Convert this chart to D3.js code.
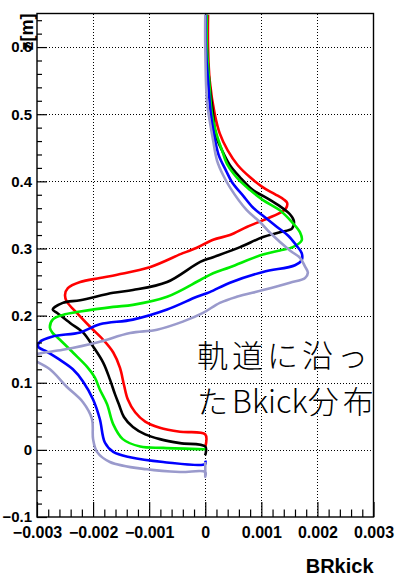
<!DOCTYPE html>
<html>
<head>
<meta charset="utf-8">
<script src="https://cdn.jsdelivr.net/npm/d3@7"></script>
<style>
  html, body { margin: 0; padding: 0; background: #fff; }
  svg { display: block; }
</style>
</head>
<body>
<svg id="chart" width="405" height="576"></svg>
<script>
// BRkick along the orbit, five orbits; each point is [BRkick, z (m)]
const kickRed = [
  [0.05e-3, 0.648], [0.05e-3, 0.600], [0.08e-3, 0.550], [0.17e-3, 0.500], [0.26e-3, 0.471],
  [0.40e-3, 0.446], [0.58e-3, 0.424], [0.80e-3, 0.406], [1.03e-3, 0.391], [1.24e-3, 0.381],
  [1.40e-3, 0.373], [1.46e-3, 0.368], [1.44e-3, 0.360], [1.33e-3, 0.353], [1.03e-3, 0.342],
  [0.74e-3, 0.332], [0.44e-3, 0.320], [0.14e-3, 0.313], [-0.15e-3, 0.301], [-0.40e-3, 0.293],
  [-0.99e-3, 0.272], [-1.57e-3, 0.261], [-1.88e-3, 0.256], [-2.23e-3, 0.250], [-2.45e-3, 0.241],
  [-2.50e-3, 0.231], [-2.47e-3, 0.221], [-2.29e-3, 0.204], [-2.05e-3, 0.183], [-1.82e-3, 0.164],
  [-1.64e-3, 0.145], [-1.52e-3, 0.122], [-1.45e-3, 0.097], [-1.38e-3, 0.075], [-1.25e-3, 0.056],
  [-1.07e-3, 0.042], [-0.81e-3, 0.033], [-0.45e-3, 0.027], [0, 0.023], [0, 0.004]
];
const kickBlack = [
  [0.03e-3, 0.648], [0.03e-3, 0.600], [0.07e-3, 0.550], [0.14e-3, 0.500], [0.19e-3, 0.468],
  [0.30e-3, 0.446], [0.44e-3, 0.424], [0.62e-3, 0.406], [0.85e-3, 0.387], [1.10e-3, 0.375],
  [1.33e-3, 0.363], [1.51e-3, 0.351], [1.58e-3, 0.341], [1.55e-3, 0.330], [1.33e-3, 0.324],
  [1.03e-3, 0.317], [0.62e-3, 0.302], [0.14e-3, 0.287], [-0.09e-3, 0.280], [-0.68e-3, 0.250],
  [-1.29e-3, 0.238], [-1.64e-3, 0.234], [-2.23e-3, 0.223], [-2.54e-3, 0.219], [-2.72e-3, 0.209],
  [-2.64e-3, 0.204], [-2.41e-3, 0.189], [-2.18e-3, 0.175], [-2.00e-3, 0.154], [-1.82e-3, 0.130],
  [-1.70e-3, 0.105], [-1.61e-3, 0.083], [-1.54e-3, 0.068], [-1.45e-3, 0.049], [-1.29e-3, 0.034],
  [-1.07e-3, 0.023], [-0.81e-3, 0.016], [-0.45e-3, 0.010], [0, 0.005], [0, -0.008]
];
const kickGreen = [
  [0.03e-3, 0.648], [0.03e-3, 0.600], [0.07e-3, 0.550], [0.12e-3, 0.500], [0.21e-3, 0.468],
  [0.30e-3, 0.446], [0.40e-3, 0.424], [0.58e-3, 0.404], [0.80e-3, 0.387], [1.03e-3, 0.372],
  [1.33e-3, 0.357], [1.55e-3, 0.339], [1.69e-3, 0.324], [1.72e-3, 0.312], [1.56e-3, 0.302],
  [1.33e-3, 0.297], [1.03e-3, 0.291], [0.44e-3, 0.272], [0.14e-3, 0.263], [-0.09e-3, 0.253],
  [-0.68e-3, 0.228], [-1.29e-3, 0.216], [-1.64e-3, 0.213], [-2.23e-3, 0.206], [-2.54e-3, 0.201],
  [-2.72e-3, 0.194], [-2.77e-3, 0.182], [-2.73e-3, 0.175], [-2.59e-3, 0.164], [-2.36e-3, 0.145],
  [-2.11e-3, 0.124], [-1.97e-3, 0.108], [-1.88e-3, 0.090], [-1.75e-3, 0.068], [-1.64e-3, 0.038],
  [-1.47e-3, 0.016], [-1.16e-3, 0.005], [-0.75e-3, 0.003], [0, 0.001]
];
const kickBlue = [
  [0.01e-3, 0.648], [0.01e-3, 0.600], [0.05e-3, 0.550], [0.10e-3, 0.500], [0.16e-3, 0.468],
  [0.24e-3, 0.439], [0.37e-3, 0.416], [0.49e-3, 0.397], [0.67e-3, 0.379], [0.85e-3, 0.361],
  [1.07e-3, 0.346], [1.28e-3, 0.332], [1.48e-3, 0.319], [1.62e-3, 0.305], [1.72e-3, 0.293],
  [1.72e-3, 0.283], [1.60e-3, 0.275], [1.03e-3, 0.265], [0.44e-3, 0.249], [0.08e-3, 0.235],
  [-0.15e-3, 0.228], [-0.68e-3, 0.209], [-1.29e-3, 0.194], [-1.88e-3, 0.187], [-2.23e-3, 0.175],
  [-2.72e-3, 0.169], [-2.95e-3, 0.161], [-2.98e-3, 0.154], [-2.82e-3, 0.146], [-2.59e-3, 0.134],
  [-2.36e-3, 0.120], [-2.18e-3, 0.102], [-2.00e-3, 0.075], [-1.88e-3, 0.046], [-1.79e-3, 0.011],
  [-1.64e-3, -0.003], [-1.34e-3, -0.011], [-0.75e-3, -0.018], [0, -0.021], [0, -0.016]
];
const kickLavender = [
  [0, 0.648], [0, 0.600], [0.03e-3, 0.520], [0.08e-3, 0.490], [0.14e-3, 0.461],
  [0.21e-3, 0.431], [0.32e-3, 0.409], [0.44e-3, 0.391], [0.74e-3, 0.357], [0.98e-3, 0.339],
  [1.16e-3, 0.323], [1.51e-3, 0.297], [1.69e-3, 0.286], [1.78e-3, 0.273], [1.83e-3, 0.264],
  [1.78e-3, 0.256], [1.51e-3, 0.249], [1.03e-3, 0.238], [0.56e-3, 0.228], [0.26e-3, 0.219],
  [-0.04e-3, 0.204], [-0.40e-3, 0.191], [-0.86e-3, 0.179], [-1.34e-3, 0.174], [-1.93e-3, 0.160],
  [-2.54e-3, 0.149], [-3.04e-3, 0.142], [-3.13e-3, 0.137], [-3.04e-3, 0.133], [-2.77e-3, 0.120],
  [-2.47e-3, 0.094], [-2.18e-3, 0.071], [-2.02e-3, 0.046], [-2.00e-3, 0.016], [-1.93e-3, -0.003],
  [-1.70e-3, -0.018], [-1.04e-3, -0.029], [-0.45e-3, -0.033], [0, -0.033], [0, -0.040], [0, -0.018]
];

const seriesList = [
  { name: "red", color: "#ff0000", points: kickRed },
  { name: "black", color: "#000000", points: kickBlack },
  { name: "green", color: "#00ee00", points: kickGreen },
  { name: "blue", color: "#0000ff", points: kickBlue },
  { name: "lavender", color: "#9a9acc", points: kickLavender }
];

const kickDomain = [-0.003, 0.003];
const zDomain = [-0.1, 0.65];
const kickTicks = [-0.003, -0.002, -0.001, 0, 0.001, 0.002, 0.003];
const zTicks = [-0.1, 0, 0.1, 0.2, 0.3, 0.4, 0.5, 0.6];
const xTitle = "BRkick";
const yTitle = "z[m]";
const noteLines = [["軌道に沿っ"], ["た", "Bkick", "分布"]];

const svg = d3.select("#chart");
const plot = { left: 37, right: 373.5, top: 13.5, bottom: 517 };

const x = d3.scaleLinear().domain(kickDomain).range([plot.left, plot.right]);
const y = d3.scaleLinear().domain(zDomain).range([plot.bottom, plot.top]);

const axisFont = "'Liberation Sans', Arial, Helvetica, sans-serif";

// dotted grid at the major ticks
const grid = svg.append("g").attr("stroke", "#000").attr("stroke-width", 1)
  .attr("stroke-dasharray", "1,2").attr("shape-rendering", "crispEdges");
grid.selectAll("line.gx").data(kickTicks.slice(1, -1)).join("line").attr("class", "gx")
  .attr("x1", d => Math.round(x(d)) + 0.5).attr("x2", d => Math.round(x(d)) + 0.5)
  .attr("y1", plot.top).attr("y2", plot.bottom);
grid.selectAll("line.gy").data(zTicks.slice(1)).join("line").attr("class", "gy")
  .attr("y1", d => Math.round(y(d)) + 0.5).attr("y2", d => Math.round(y(d)) + 0.5)
  .attr("x1", plot.left).attr("x2", plot.right);

// curves, clipped to the frame
svg.append("clipPath").attr("id", "plotClip").append("rect")
  .attr("x", plot.left).attr("y", plot.top)
  .attr("width", plot.right - plot.left).attr("height", plot.bottom - plot.top);

const line = d3.line().x(d => x(d[0])).y(d => y(d[1])).curve(d3.curveCatmullRom.alpha(0.5));
svg.append("g").attr("clip-path", "url(#plotClip)")
  .selectAll("path").data(seriesList).join("path")
  .attr("d", d => line(d.points))
  .attr("fill", "none")
  .attr("stroke", d => d.color)
  .attr("stroke-width", 2.6)
  .attr("stroke-linejoin", "round");

// frame
svg.append("rect")
  .attr("x", plot.left).attr("y", plot.top)
  .attr("width", plot.right - plot.left).attr("height", plot.bottom - plot.top)
  .attr("fill", "none").attr("stroke", "#000").attr("stroke-width", 1.4);

const fmtZ = d => d === 0 ? "0" : d3.format(".1f")(d);
const fmtK = d => d === 0 ? "0" : d3.format(".3f")(d);

// x axis: major ticks with labels, minor ticks without
const kickMinor = d3.range(-15, 16).map(i => i * 0.0002).filter(v => Math.abs(Math.round(v * 5000) % 5) !== 0);
const xAxis = svg.append("g").attr("transform", `translate(0,${plot.bottom})`)
  .call(d3.axisBottom(x).tickValues(kickTicks).tickFormat(fmtK).tickSize(-15).tickPadding(10));
svg.append("g").attr("transform", `translate(0,${plot.bottom})`)
  .call(d3.axisBottom(x).tickValues(kickMinor).tickFormat("").tickSize(-7.5));

// y axis
const zMinor = d3.range(-5, 33).map(i => i * 0.02).filter(v => Math.abs(Math.round(v * 50) % 5) !== 0);
const yAxis = svg.append("g").attr("transform", `translate(${plot.left},0)`)
  .call(d3.axisLeft(y).tickValues(zTicks).tickFormat(fmtZ).tickSize(-10).tickPadding(5));
svg.append("g").attr("transform", `translate(${plot.left},0)`)
  .call(d3.axisLeft(y).tickValues(zMinor).tickFormat("").tickSize(-5));

svg.selectAll(".domain").remove();
svg.selectAll(".tick line").attr("stroke", "#000").attr("stroke-width", 1.2);
xAxis.selectAll("text").attr("font-family", axisFont).attr("font-weight", "bold")
  .attr("font-size", 16).attr("fill", "#000");
yAxis.selectAll("text").attr("font-family", axisFont).attr("font-weight", "bold")
  .attr("font-size", 15).attr("fill", "#000");

// axis titles
svg.append("text").text(xTitle)
  .attr("x", plot.right).attr("y", 573).attr("text-anchor", "end")
  .attr("font-family", axisFont).attr("font-weight", "bold").attr("font-size", 20).attr("fill", "#000");
svg.append("text").text(yTitle)
  .attr("transform", `translate(33,${plot.top}) rotate(-90)`).attr("text-anchor", "end")
  .attr("font-family", axisFont).attr("font-weight", "bold").attr("font-size", 18).attr("fill", "#000");

// annotation
const note = svg.append("text")
  .attr("font-family", "'Noto Sans CJK JP', sans-serif").attr("font-weight", 300)
  .attr("font-size", 31).attr("fill", "#000");
const noteBaselines = [367, 413];
noteLines.forEach((parts, i) => {
  parts.forEach((p, j) => {
    const t = note.append("tspan").text(p)
      .attr("letter-spacing", /[A-Za-z]/.test(p) ? 0 : 4);
    if (j === 0) t.attr("x", 197).attr("y", noteBaselines[i]);
  });
});
</script>
</body>
</html>
